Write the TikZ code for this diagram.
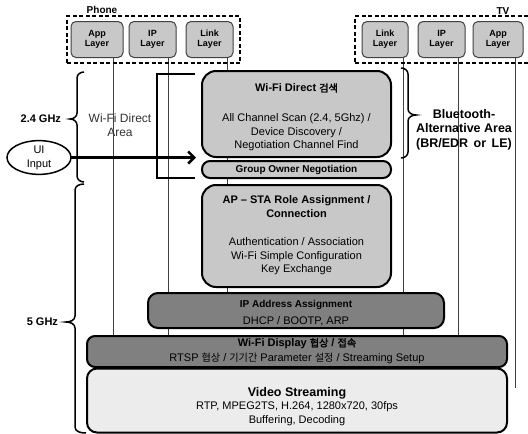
\documentclass[tikz,border=0pt]{standalone}
\usepackage{fontspec}
\setmainfont{Liberation Sans}
\newfontfamily\kr[Scale=0.92, AutoFakeBold=2]{Noto Sans CJK KR}
\usetikzlibrary{arrows.meta,shapes.geometric}
\definecolor{lgray}{HTML}{C8C8C8}
\definecolor{dgray}{HTML}{808080}
\definecolor{vlgray}{HTML}{ECECEC}
\pgfdeclarelayer{bg}
\pgfsetlayers{bg,main}
\begin{document}
\begin{tikzpicture}[x=1pt,y=-1pt,
  every node/.style={inner sep=0pt, outer sep=0pt},
  layerbox/.style={draw=black!75, line width=1pt, fill=lgray, rounded corners=5pt,
    minimum height=36pt, align=center, font=\bfseries\fontsize{9}{10}\selectfont},
  groupbox/.style={draw=black, line width=1.8pt, dash pattern=on 4pt off 2.5pt, minimum height=47pt},
  stage/.style={draw=black, line width=2pt},
  vline/.style={draw=black!75, line width=1pt},
  brc/.style={draw=black, line width=1.5pt},
  txt/.style={align=center, font=\fontsize{11}{13.5}\selectfont},
  btxt/.style={align=center, font=\bfseries\fontsize{11}{13.5}\selectfont},
  stxt/.style={align=center, font=\bfseries\fontsize{10}{12}\selectfont}
]
\useasboundingbox (0,0) rectangle (528,434);

% device groups
\node[groupbox, minimum width=173pt] (phone) at (153.5,39.5) {};
\node[groupbox, minimum width=180pt] (tv) at (445,39.5) {};
\node[font=\bfseries\fontsize{10}{12}\selectfont] (phonelbl) at (102,10) {Phone};
\node[font=\bfseries\fontsize{10}{12}\selectfont] (tvlbl) at (503,11) {TV};

% layer boxes
\node[layerbox, minimum width=52pt] (papp) at (97,39.5) {App\\Layer};
\node[layerbox, minimum width=47pt] (pip) at (152.5,39.5) {IP\\Layer};
\node[layerbox, minimum width=47pt] (plink) at (209.5,39.5) {Link\\Layer};
\node[layerbox, minimum width=46pt] (tlink) at (385,39.5) {Link\\Layer};
\node[layerbox, minimum width=47pt] (tip) at (441.5,39.5) {IP\\Layer};
\node[layerbox, minimum width=50pt] (tapp) at (498,39.5) {App\\Layer};

% stage boxes
\node[stage, fill=lgray, rounded corners=14pt, minimum width=189pt, minimum height=86pt] (wfd) at (296.5,114) {};
\node[stage, fill=lgray, rounded corners=8pt, minimum width=189pt, minimum height=17pt] (gon) at (296.5,169.5) {};
\node[stage, fill=lgray, rounded corners=14pt, minimum width=189pt, minimum height=102pt] (apsta) at (296.5,236) {};
\node[stage, fill=dgray, rounded corners=10pt, minimum width=296pt, minimum height=35pt] (ipa) at (296,310.5) {};
\node[stage, fill=dgray, rounded corners=8pt, minimum width=420pt, minimum height=31pt] (wdisp) at (297,351.5) {};
\node[stage, fill=vlgray, rounded corners=10pt, minimum width=420pt, minimum height=64pt] (video) at (297,400.5) {};

% stage texts
\node[btxt] (wfdT) at (296.5,88) {Wi-Fi Direct {\kr 검색}};
\node[txt] (wfdB) at (296.5,132.5) {All Channel Scan (2.4, 5Ghz) /\\Device Discovery /\\Negotiation Channel Find};
\node[stxt] (gonT) at (296.5,169.5) {Group Owner Negotiation};
\node[btxt] (apT) at (296.5,206.5) {AP -- STA Role Assignment /\\Connection};
\node[txt] (apB) at (296.5,256.5) {Authentication / Association\\Wi-Fi Simple Configuration\\Key Exchange};
\node[stxt] (ipT) at (296,305) {IP Address Assignment};
\node[txt] (ipB) at (296,321) {DHCP / BOOTP, ARP};
\node[btxt] (wdT) at (297,343.5) {Wi-Fi Display {\kr 협상} / {\kr 접속}};
\node[txt] (wdB) at (297,358) {RTSP {\kr 협상} / {\kr 기기간} Parameter {\kr 설정} / Streaming Setup};
\node[align=center, font=\bfseries\fontsize{12.5}{14}\selectfont] (vsT) at (297,393) {Video Streaming};
\node[txt, font=\fontsize{11}{14}\selectfont] (vsB) at (297,414) {RTP, MPEG2TS, H.264, 1280x720, 30fps\\Buffering, Decoding};

% side labels
\node[anchor=east, font=\bfseries\fontsize{11}{13}\selectfont] (g24) at (61,119) {2.4 GHz};
\node[anchor=east, font=\bfseries\fontsize{11}{13}\selectfont] (g5) at (58,322) {5 GHz};
\node[align=center, text=black!80, font=\fontsize{12}{14.5}\selectfont] (wfdarea) at (120,125) {Wi-Fi Direct\\Area};
\node[align=center, font=\bfseries\fontsize{12.5}{14.5}\selectfont] (bt) at (464,129.5) {Bluetooth-\\Alternative Area\\(BR/EDR\hspace{2pt} or\hspace{2pt} LE)};
\node[draw=black, line width=1.5pt, fill=white, ellipse, minimum width=64pt, minimum height=27pt, align=center, font=\fontsize{11}{14}\selectfont] (ui) at (39,157.5) {UI\\Input};

% vertical layer lines (behind)
\coordinate (xpa) at (113,0);
\coordinate (xpi) at (168,0);
\coordinate (xpl) at (227,0);
\coordinate (xtl) at (403,0);
\coordinate (xti) at (458,0);
\coordinate (tappEnd) at (515,388);
\begin{pgfonlayer}{bg}
\draw[vline] (xpa |- papp.south) -- (xpa |- wdisp.north);
\draw[vline] (xpi |- pip.south) -- (xpi |- wdisp.north);
\draw[vline] (xpl |- plink.south) -- (xpl |- ipa.north);
\draw[vline] (xtl |- tlink.south) -- (xtl |- wdisp.north);
\draw[vline] (xti |- tip.south) -- (xti |- wdisp.north);
\draw[vline] (tappEnd |- tapp.south) -- (tappEnd);
\end{pgfonlayer}

% bracket and arrow
\coordinate (brT) at (195,74);
\coordinate (brB) at (195,178);
\draw[line width=2.8pt] (brT) -- ++(-38,0) |- (brB);
\coordinate (arrEnd) at (196,157.5);
\draw[line width=2.5pt, -{Straight Barb[length=6pt,width=12pt]}] (ui.east) -- (arrEnd);

% braces
\draw[brc] (84,72) to[out=180,in=90] (77,78) -- (77,113) to[out=-90,in=0] (70,119)
  to[out=0,in=90] (77,125) -- (77,176) to[out=-90,in=180] (84,182);
\draw[brc] (84,184) to[out=180,in=90] (75,190) -- (75,316) to[out=-90,in=0] (66,322)
  to[out=0,in=90] (75,328) -- (75,427) to[out=-90,in=180] (86,433);
\draw[brc] (401,68) to[out=0,in=90] (408,74) -- (408,109) to[out=-90,in=180] (416,115)
  to[out=180,in=90] (408,121) -- (408,152) to[out=-90,in=0] (401,158);
\end{tikzpicture}
\end{document}
